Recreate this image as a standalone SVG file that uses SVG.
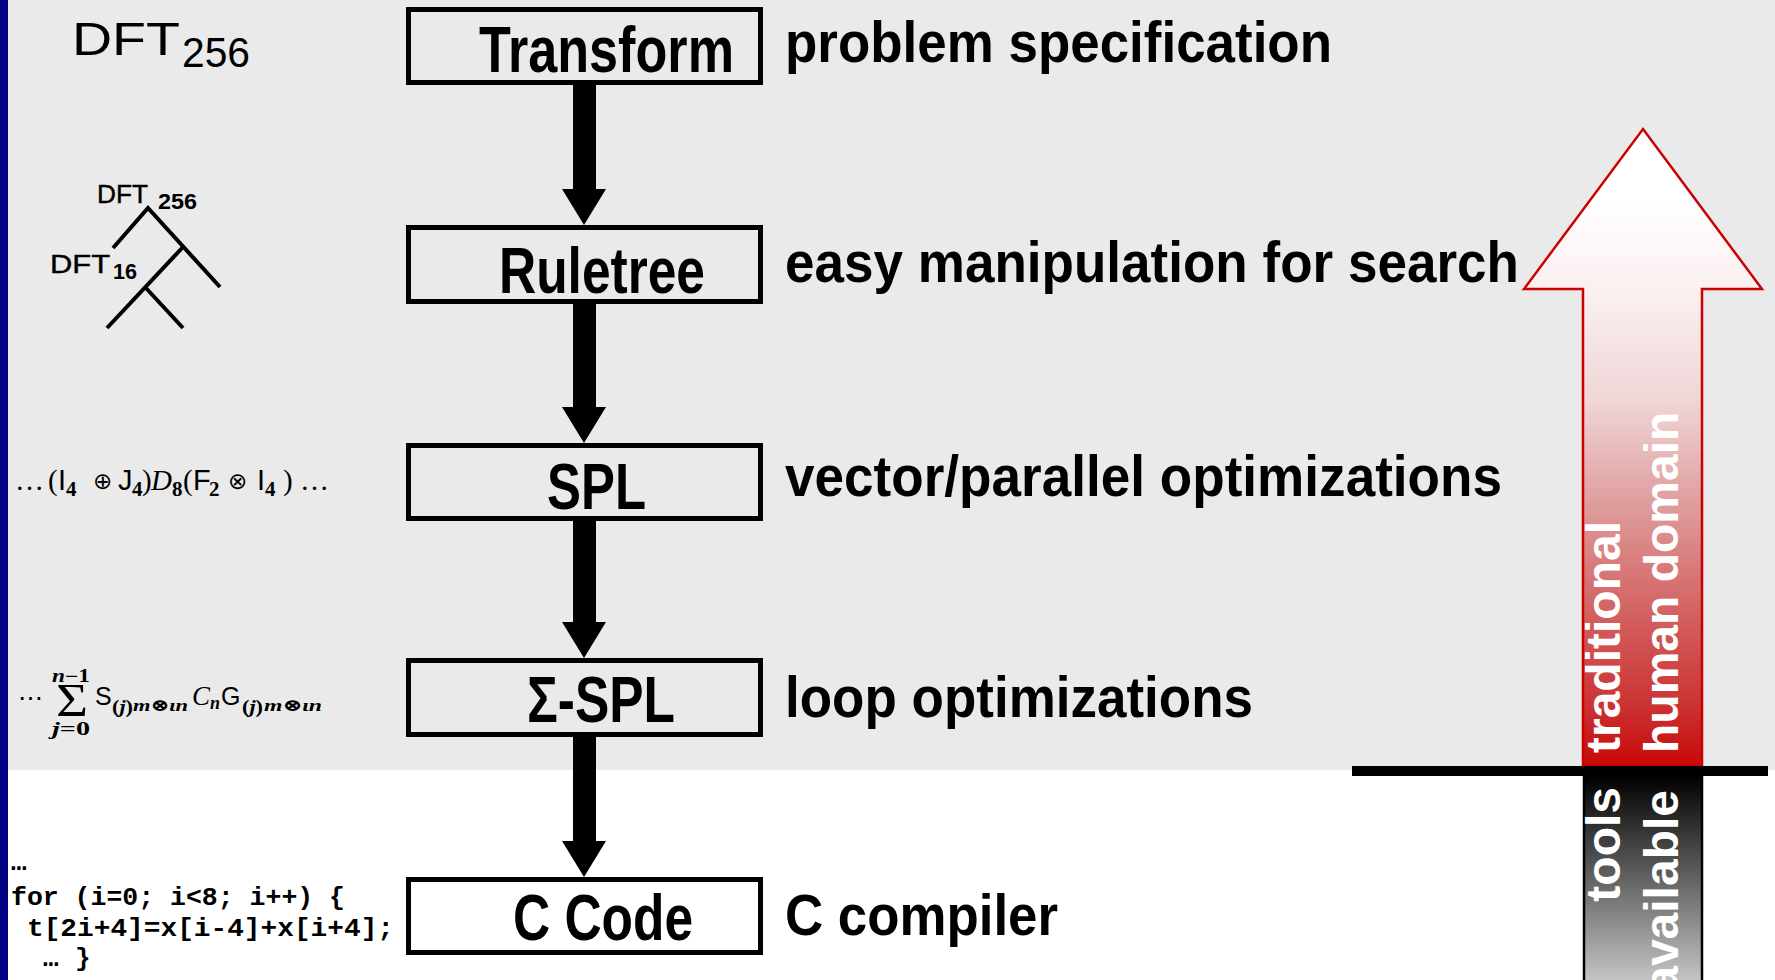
<svg xmlns="http://www.w3.org/2000/svg" width="1775" height="980" viewBox="0 0 1775 980">
  <style>
    .box { fill: none; stroke: #000; stroke-width: 5; }
    .stage { font-family: "Liberation Sans", Arial, sans-serif; font-weight: bold; font-size: 64px; fill: #000; }
    .note { font-family: "Liberation Sans", Arial, sans-serif; font-weight: bold; font-size: 58px; fill: #000; }
    .sans { font-family: "Liberation Sans", Arial, sans-serif; fill: #000; }
    .serif { font-family: "Liberation Serif", "DejaVu Serif", serif; fill: #000; }
    .sub { font-family: "Liberation Serif", "DejaVu Serif", serif; font-weight: bold; font-size: 21px; }
    .op { font-family: "DejaVu Sans", sans-serif; font-size: 23px; }
    .code { font-family: "Liberation Mono", "Courier New", monospace; font-weight: bold; font-size: 26px; fill: #000; }
    .vert { font-family: "Liberation Sans", Arial, sans-serif; font-weight: bold; font-size: 48px; fill: #fff; }
    .tree { fill: none; stroke: #000; stroke-width: 4; }
  </style>
  <defs>
    <linearGradient id="humanGrad" gradientUnits="userSpaceOnUse" x1="0" y1="129" x2="0" y2="766">
      <stop offset="0" stop-color="#ffffff"/>
      <stop offset="0.11" stop-color="#ffffff"/>
      <stop offset="0.27" stop-color="#faeeee"/>
      <stop offset="0.43" stop-color="#f0d4d6"/>
      <stop offset="0.58" stop-color="#e0a0a0"/>
      <stop offset="0.74" stop-color="#d46868"/>
      <stop offset="0.9" stop-color="#cc3434"/>
      <stop offset="1" stop-color="#c80808"/>
    </linearGradient>
    <linearGradient id="toolGrad" gradientUnits="userSpaceOnUse" x1="0" y1="776" x2="0" y2="980">
      <stop offset="0" stop-color="#000000"/>
      <stop offset="1" stop-color="#c4c4c4"/>
    </linearGradient>
  </defs>

  <!-- page background -->
  <rect x="0" y="0" width="1775" height="980" fill="#ffffff"/>
  <rect x="8" y="0" width="1767" height="770" fill="#eaeaea"/>
  <rect x="0" y="0" width="8" height="980" fill="#000080"/>

  <!-- left column: representations -->
  <g id="repr-transform">
    <text class="sans" x="72" y="55" font-size="46" textLength="108" lengthAdjust="spacingAndGlyphs">DFT</text>
    <text class="sans" x="182" y="67" font-size="42" textLength="68" lengthAdjust="spacingAndGlyphs">256</text>
  </g>
  <g id="repr-ruletree">
    <polyline class="tree" points="113,248 148,208 220,287"/>
    <line class="tree" x1="183" y1="247" x2="107" y2="328"/>
    <line class="tree" x1="145" y1="287" x2="183" y2="328"/>
    <text class="sans" x="97" y="203" font-size="25" stroke="#000" stroke-width="0.4" textLength="51" lengthAdjust="spacingAndGlyphs">DFT</text>
    <text class="sans" x="158" y="209" font-size="22" font-weight="bold" textLength="39" lengthAdjust="spacingAndGlyphs">256</text>
    <text class="sans" x="50" y="273" font-size="25" stroke="#000" stroke-width="0.4" textLength="60" lengthAdjust="spacingAndGlyphs">DFT</text>
    <text class="sans" x="113" y="279" font-size="22" font-weight="bold" textLength="24" lengthAdjust="spacingAndGlyphs">16</text>
  </g>
  <g id="repr-spl">
    <text class="serif" font-size="29" y="490">
      <tspan x="15">…</tspan>
      <tspan x="48">(</tspan>
      <tspan x="58" class="sans">I</tspan>
      <tspan x="66" y="496" class="sub">4</tspan>
      <tspan x="93" y="489" class="op">⊕</tspan>
      <tspan x="118" y="490" class="sans">J</tspan>
      <tspan x="132" y="496" class="sub">4</tspan>
      <tspan x="142" y="490">)</tspan>
      <tspan x="151" font-style="italic">D</tspan>
      <tspan x="172" y="496" class="sub">8</tspan>
      <tspan x="183" y="490">(</tspan>
      <tspan x="193" class="sans">F</tspan>
      <tspan x="209" y="496" class="sub">2</tspan>
      <tspan x="228" y="489" class="op">⊗</tspan>
      <tspan x="257" y="490" class="sans">I</tspan>
      <tspan x="265" y="496" class="sub">4</tspan>
      <tspan x="283" y="490">)</tspan>
      <tspan x="300">…</tspan>
    </text>
  </g>
  <g id="repr-sigma-spl">
    <text class="serif" x="18" y="707" font-size="26" textLength="25" lengthAdjust="spacingAndGlyphs">⋯</text>
    <text class="serif" x="56" y="716" font-size="46" textLength="32" lengthAdjust="spacingAndGlyphs">Σ</text>
    <text class="serif" x="52" y="682" font-size="18" font-weight="bold" textLength="38" lengthAdjust="spacingAndGlyphs"><tspan font-style="italic">n</tspan>−1</text>
    <text class="serif" x="52" y="735" font-size="18" font-weight="bold" textLength="38" lengthAdjust="spacingAndGlyphs"><tspan font-style="italic">j</tspan>=0</text>
    <text class="sans" x="95" y="705" font-size="25">S</text>
    <text class="serif" x="112" y="713" font-size="19" font-weight="bold" textLength="21" lengthAdjust="spacingAndGlyphs">(<tspan font-style="italic">j</tspan>)</text>
    <text class="serif" x="133" y="711" font-size="17" font-style="italic" font-weight="bold" textLength="55" lengthAdjust="spacingAndGlyphs">m⊗ιn</text>
    <text class="serif" x="192" y="705" font-size="27" font-style="italic">C</text>
    <text class="serif" x="210" y="709" font-size="18" font-style="italic" font-weight="bold">n</text>
    <text class="sans" x="221" y="705" font-size="25">G</text>
    <text class="serif" x="242" y="713" font-size="19" font-weight="bold" textLength="21" lengthAdjust="spacingAndGlyphs">(<tspan font-style="italic">j</tspan>)</text>
    <text class="serif" x="264" y="711" font-size="17" font-style="italic" font-weight="bold" textLength="58" lengthAdjust="spacingAndGlyphs">m⊗ιn</text>
  </g>
  <g id="repr-code">
    <text class="code" x="11" y="870">…</text>
    <text class="code" x="11" y="905" textLength="334" lengthAdjust="spacingAndGlyphs">for (i=0; i&lt;8; i++) {</text>
    <text class="code" x="27" y="936" textLength="367" lengthAdjust="spacingAndGlyphs">t[2i+4]=x[i-4]+x[i+4];</text>
    <text class="code" y="966"><tspan x="43">…</tspan><tspan x="75">}</tspan></text>
  </g>

  <!-- pipeline stages -->
  <g id="node-transform">
    <rect class="box" x="408.5" y="9.5" width="352" height="73"/>
    <text class="stage" x="479" y="72" textLength="255" lengthAdjust="spacingAndGlyphs">Transform</text>
  </g>
  <g id="node-ruletree">
    <rect class="box" x="408.5" y="227.5" width="352" height="74"/>
    <text class="stage" x="499" y="293" textLength="206" lengthAdjust="spacingAndGlyphs">Ruletree</text>
  </g>
  <g id="node-spl">
    <rect class="box" x="408.5" y="445.5" width="352" height="73"/>
    <text class="stage" x="547" y="509" textLength="99" lengthAdjust="spacingAndGlyphs">SPL</text>
  </g>
  <g id="node-sigma-spl">
    <rect class="box" x="408.5" y="660.5" width="352" height="74"/>
    <text class="stage" x="527" y="722" textLength="148" lengthAdjust="spacingAndGlyphs">Σ-SPL</text>
  </g>
  <g id="node-ccode">
    <rect class="box" x="408.5" y="879.5" width="352" height="73"/>
    <text class="stage" x="513" y="940" textLength="180" lengthAdjust="spacingAndGlyphs">C Code</text>
  </g>

  <!-- stage descriptions -->
  <g id="notes">
    <text class="note" x="785" y="62" textLength="547" lengthAdjust="spacingAndGlyphs">problem specification</text>
    <text class="note" x="785" y="282" textLength="734" lengthAdjust="spacingAndGlyphs">easy manipulation for search</text>
    <text class="note" x="785" y="496" textLength="717" lengthAdjust="spacingAndGlyphs">vector/parallel optimizations</text>
    <text class="note" x="785" y="717" textLength="468" lengthAdjust="spacingAndGlyphs">loop optimizations</text>
    <text class="note" x="785" y="935" textLength="273" lengthAdjust="spacingAndGlyphs">C compiler</text>
  </g>

  <!-- downward flow arrows between stages -->
  <g id="connectors" fill="#000">
    <path d="M573 84 H596 V189 H606 L584 225 L562 189 H573 Z"/>
    <path d="M573 303 H596 V407 H606 L584 443 L562 407 H573 Z"/>
    <path d="M573 520 H596 V622 H606 L584 658 L562 622 H573 Z"/>
    <path d="M573 736 H596 V841 H606 L584 877 L562 841 H573 Z"/>
  </g>

  <!-- domain indicator on the right -->
  <g id="human-domain">
    <polygon points="1643,129 1762,289 1702,289 1702,766 1583,766 1583,289 1524,289" fill="url(#humanGrad)" stroke="#cc0000" stroke-width="2.5" stroke-linejoin="miter"/>
    <text class="vert" transform="translate(1620,753) rotate(-90)">traditional</text>
    <text class="vert" transform="translate(1678,753) rotate(-90)">human domain</text>
  </g>
  <g id="tools-available">
    <rect x="1584" y="776" width="118" height="210" fill="url(#toolGrad)" stroke="#000" stroke-width="2.5"/>
    <text class="vert" text-anchor="end" transform="translate(1620,787) rotate(-90)">tools</text>
    <text class="vert" text-anchor="end" transform="translate(1678,790) rotate(-90)">available</text>
  </g>
  <rect id="divider" x="1352" y="766" width="416" height="10" fill="#000"/>
</svg>
